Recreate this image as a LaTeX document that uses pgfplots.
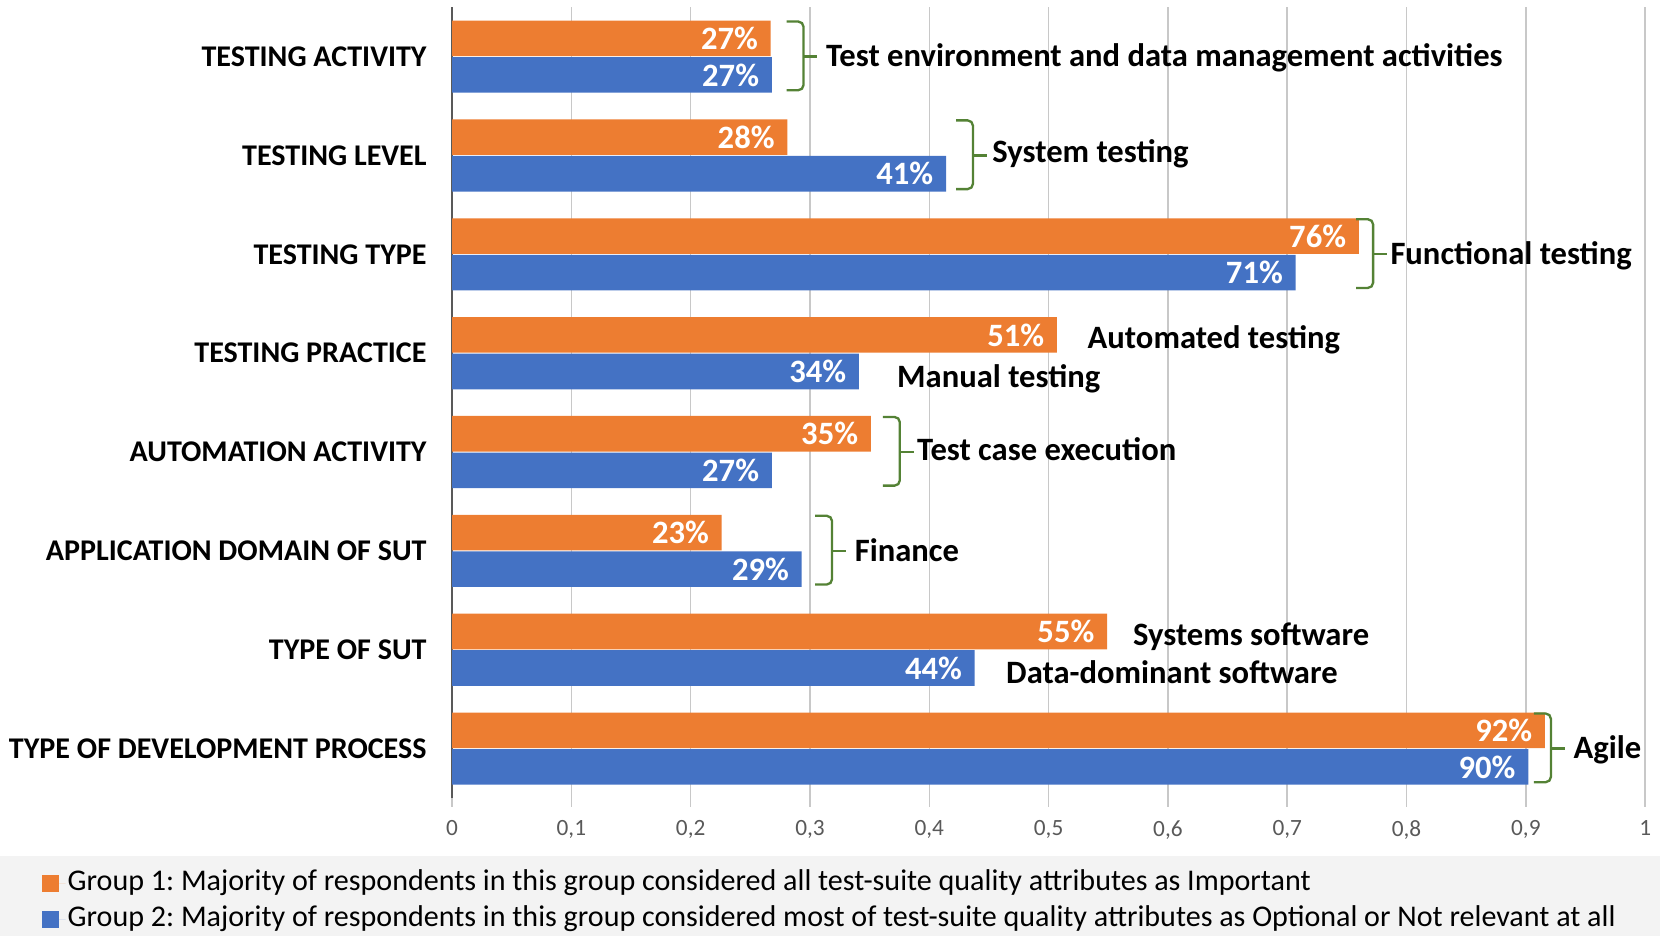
\documentclass[border=0pt]{standalone}
\usepackage{pgfplots}
\pgfplotsset{compat=1.18}
\usepackage{pgfplotstable}
\usepackage{fontspec}
\setmainfont{Carlito}
\frenchspacing
\definecolor{gOrange}{HTML}{ED7D31}
\definecolor{gBlue}{HTML}{4472C4}
\definecolor{gGreen}{HTML}{548235}
\definecolor{gGrid}{HTML}{C8C8C8}
\definecolor{gAxis}{HTML}{595959}
\definecolor{gLegend}{HTML}{F3F3F3}

\newcommand{\xbrace}[4]{%
  \draw[gGreen, line width=1.1pt, rounded corners=2.5pt] (axis cs:#1,#2) -- ([xshift=8pt]axis cs:#1,#2) -- ([xshift=8pt]axis cs:#1,#3) -- (axis cs:#1,#3);
  \draw[gGreen, line width=1.1pt] ([xshift=8pt]axis cs:#1,#4) -- ([xshift=14.5pt]axis cs:#1,#4);
}

\pgfplotstableread{
y x lab
0 0.916 92
1 0.549 55
2 0.226 23
3 0.351 35
4 0.507 51
5 0.760 76
6 0.281 28
7 0.267 27
}\orangedata

\pgfplotstableread{
y x lab
0 0.902 90
1 0.438 44
2 0.293 29
3 0.268 27
4 0.341 34
5 0.707 71
6 0.414 41
7 0.268 27
}\bluedata

\begin{document}
\begin{tikzpicture}
\path[use as bounding box] (-213.5pt,-65.2pt) rectangle (570.5pt,376.9pt);
\fill[gLegend] (-213.5pt,-65.2pt) rectangle (570.5pt,-27.6pt);
\begin{axis}[
  at={(0pt,0pt)}, anchor=south west,
  scale only axis, width=563.5pt, height=373.5pt,
  xbar, bar width=0.36,
  xmin=0, xmax=1, ymin=-0.5, ymax=7.5,
  clip=false,
  axis x line*=bottom, axis y line*=left,
  x axis line style={draw=none,-},
  y axis line style={-,gAxis,line width=1.25pt},
  xmajorgrids, grid style={gGrid,line width=0.75pt},
  xtick={0,0.1,0.2,0.3,0.4,0.5,0.6,0.7,0.8,0.9,1},
  tick align=outside, major tick length=4pt,
  xtick style={gGrid,line width=0.75pt},
  ytick={0,...,7},
  ytick style={draw=none},
  yticklabels={TYPE OF DEVELOPMENT PROCESS, TYPE OF SUT, APPLICATION DOMAIN OF SUT, AUTOMATION ACTIVITY, TESTING PRACTICE, TESTING TYPE, TESTING LEVEL, TESTING ACTIVITY},
  yticklabel style={anchor=east, xshift=-4.5pt, font=\bfseries\fontsize{14.2}{17}\selectfont},
  xticklabel style={font=\fontsize{11}{13}\selectfont, text=gAxis, yshift=-3pt},
  /pgf/number format/.cd, use comma, fixed, precision=1, assume math mode=true,
  /pgfplots/.cd,
  point meta=explicit,
  nodes near coords={\pgfmathprintnumber[precision=0]{\pgfplotspointmeta}\%},
  nodes near coords style={anchor=east, text=white, font=\bfseries\fontsize{15.4}{18}\selectfont, xshift=-2.5pt},
  legend style={at={(-0.3434,-0.0874)}, anchor=north west, draw=none, fill=none,
    inner sep=0pt, outer sep=0pt, font=\fontsize{14.2}{17}\selectfont,
    row sep=1.5pt, nodes={inner sep=1pt, text height=10pt, text depth=3.5pt}},
  legend cell align=left,
]
\addplot[fill=gOrange, draw=none, bar shift=0.185,
  legend image code/.code={\fill[gOrange] (0pt,-3.95pt) rectangle (7.9pt,3.95pt); \path (0pt,0pt) -- (11pt,0pt);}]
  table[x=x, y=y, meta=lab] {\orangedata};
\addlegendentry{Group 1: Majority of respondents in this group considered all test-suite quality attributes as Important}
\addplot[fill=gBlue, draw=none, bar shift=-0.185,
  legend image code/.code={\fill[gBlue] (0pt,-3.95pt) rectangle (7.9pt,3.95pt); \path (0pt,0pt) -- (11pt,0pt);}]
  table[x=x, y=y, meta=lab] {\bluedata};
\addlegendentry{Group 2: Majority of respondents in this group considered most of test-suite quality attributes as Optional or Not relevant at all}

\tikzset{ann/.style={anchor=base west, inner sep=0pt, font=\bfseries\fontsize{15.4}{18}\selectfont}}
% Testing activity
\xbrace{0.2804}{7.355}{6.66}{7.0}
\node[ann] at (axis cs:0.3132,6.904) {Test environment and data management activities};
% Testing level
\xbrace{0.4224}{6.355}{5.66}{6.0}
\node[ann] at (axis cs:0.4526,5.925) {System testing};
% Testing type
\xbrace{0.7578}{5.355}{4.66}{5.0}
\node[ann] at (axis cs:0.7862,4.893) {Functional testing};
% Testing practice
\node[ann] at (axis cs:0.5324,4.043) {Automated testing};
\node[ann] at (axis cs:0.3727,3.657) {Manual testing};
% Automation activity
\xbrace{0.3611}{3.355}{2.66}{3.0}
\node[ann] at (axis cs:0.3895,2.914) {Test case execution};
% Application domain
\xbrace{0.3043}{2.355}{1.66}{2.0}
\node[ann] at (axis cs:0.3372,1.893) {Finance};
% Type of SUT
\node[ann] at (axis cs:0.5705,1.043) {Systems software};
\node[ann] at (axis cs:0.4641,0.657) {Data-dominant software};
% Development process
\xbrace{0.9068}{0.355}{-0.34}{0.0}
\node[ann] at (axis cs:0.9397,-0.096) {Agile};
\end{axis}
\end{tikzpicture}
\end{document}
